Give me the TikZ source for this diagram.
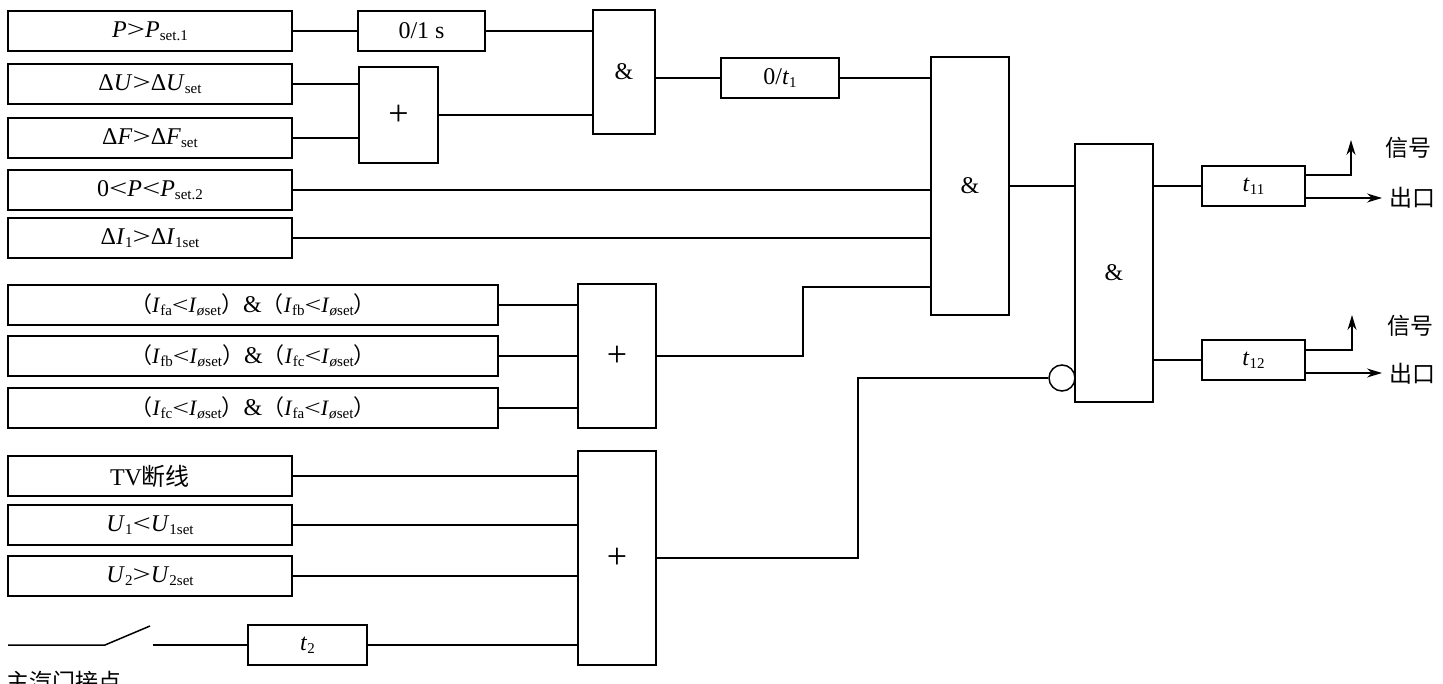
\documentclass[tikz,border=0pt]{standalone}
\usepackage{fontspec}
\setmainfont{Liberation Serif}
\newfontfamily\cjk{Noto Sans CJK SC}
\usetikzlibrary{arrows.meta}
\newcommand{\fs}{\fontsize{24}{28}\selectfont}
\newcommand{\fsm}{\fontsize{22}{26}\selectfont}
\newcommand{\lsub}[1]{\raisebox{-0.3ex}{\fontsize{15}{15}\selectfont #1}}
\newcommand{\lp}{{\cjk （}}
\newcommand{\rp}{{\cjk ）}}
\newcommand{\gt}{\scalebox{1.35}[1]{>}}
\newcommand{\lt}{\scalebox{1.35}[1]{<}}
\newcommand{\orsym}{{\fontsize{36}{36}\selectfont +}}
\begin{document}
\begin{tikzpicture}[x=1pt,y=-1pt, line width=1.5pt,
  box/.style={draw, line width=1.5pt, inner sep=0pt, font=\fs},
  inbox/.style={box, minimum width=284pt, minimum height=40pt},
  wbox/.style={box, minimum width=490pt, minimum height=40pt, font=\fsm},
  arr/.style={-{Stealth[length=15pt,width=9pt]}},
  lbl/.style={font=\cjk\fontsize{23}{26}\selectfont, inner sep=0pt}]
\useasboundingbox (0,0) rectangle (1443,684);
% inputs
\node[inbox] (in1) at (150,31) {\textit{P}\gt\textit{P}\lsub{set.1}};
\node[inbox] (in2) at (150,84) {Δ\textit{U}\gt Δ\textit{U}\lsub{set}};
\node[inbox] (in3) at (150,138) {Δ\textit{F}\gt Δ\textit{F}\lsub{set}};
\node[inbox] (in4) at (150,190) {0\lt\textit{P}\lt\textit{P}\lsub{set.2}};
\node[inbox] (in5) at (150,238) {Δ\textit{I}\lsub{1}\gt Δ\textit{I}\lsub{1set}};
\node[wbox] (in6) at (253,305) {\lp\textit{I}\lsub{fa}\lt\textit{I}\lsub{\textit{ø}set}\rp{\fs\&}\lp\textit{I}\lsub{fb}\lt\textit{I}\lsub{\textit{ø}set}\rp};
\node[wbox] (in7) at (253,356) {\lp\textit{I}\lsub{fb}\lt\textit{I}\lsub{\textit{ø}set}\rp{\fs\&}\lp\textit{I}\lsub{fc}\lt\textit{I}\lsub{\textit{ø}set}\rp};
\node[wbox] (in8) at (253,408) {\lp\textit{I}\lsub{fc}\lt\textit{I}\lsub{\textit{ø}set}\rp{\fs\&}\lp\textit{I}\lsub{fa}\lt\textit{I}\lsub{\textit{ø}set}\rp};
\node[inbox] (in9) at (150,476) {TV{\cjk 断线}};
\node[inbox] (in10) at (150,525) {\textit{U}\lsub{1}\lt\textit{U}\lsub{1set}};
\node[inbox] (in11) at (150,576) {\textit{U}\lsub{2}\gt\textit{U}\lsub{2set}};
% timers and gates
\node[box, minimum width=127pt, minimum height=40pt] (d01) at (421.5,31) {0/1 s};
\node[box, minimum width=79pt, minimum height=96pt] (or1) at (398.5,115) {\orsym};
\node[box, minimum width=62pt, minimum height=124pt] (and1) at (624,72) {\&};
\node[box, minimum width=118pt, minimum height=40pt] (dt1) at (780,78) {0/\textit{t}\lsub{1}};
\node[box, minimum width=78pt, minimum height=258pt] (and2) at (970,186) {\&};
\node[box, minimum width=78pt, minimum height=258pt] (and3) at (1114,273) {\&};
\node[box, minimum width=103pt, minimum height=40pt] (t11) at (1253.5,186) {\textit{t}\lsub{11}};
\node[box, minimum width=103pt, minimum height=40pt] (t12) at (1253.5,360) {\textit{t}\lsub{12}};
\node[box, minimum width=78pt, minimum height=144pt] (or2) at (617,356) {\orsym};
\node[box, minimum width=78pt, minimum height=214pt] (or3) at (617,558) {\orsym};
\node[box, minimum width=119pt, minimum height=40pt] (t2) at (307.5,645) {\textit{t}\lsub{2}};
\node[draw, circle, line width=1.5pt, minimum size=26pt, inner sep=0pt] (inv) at (1062,378) {};
% labels
\node[lbl] (s1) at (1408,148) {信号};
\node[lbl] (o1) at (1412,198) {出口};
\node[lbl] (s2) at (1410,326) {信号};
\node[lbl] (o2) at (1412,374) {出口};
\node[lbl, anchor=west] (zq) at (6,682) {主汽门接点};
% switch
\coordinate (sw0) at (8,645);
\coordinate (sw1) at (105,645);
\coordinate (sw2) at (150,626);
\coordinate (sw3) at (153,645);
\draw (sw0) -- (sw1) -- (sw2);
\draw (sw3) -- (t2.west);
\draw (t2.east) -- (t2.east -| or3.west);
% connections top
\draw (in1.east) -- (d01.west);
\draw (d01.east) -- (d01.east -| and1.west);
\draw (in2.east) -- (in2.east -| or1.west);
\draw (in3.east) -- (in3.east -| or1.west);
\draw (or1.east) -- (or1.east -| and1.west);
\draw (dt1.west -| and1.east) -- (dt1.west);
\draw (dt1.east) -- (dt1.east -| and2.west);
\draw (in4.east) -- (in4.east -| and2.west);
\draw (in5.east) -- (in5.east -| and2.west);
\coordinate (k1) at (803,356);
\coordinate (k2) at (803,287);
\draw (or2.east) -- (k1) -- (k2) -- (k2 -| and2.west);
\draw (in6.east) -- (in6.east -| or2.west);
\draw (in7.east) -- (in7.east -| or2.west);
\draw (in8.east) -- (in8.east -| or2.west);
\draw (in9.east) -- (in9.east -| or3.west);
\draw (in10.east) -- (in10.east -| or3.west);
\draw (in11.east) -- (in11.east -| or3.west);
\coordinate (k3) at (858,558);
\coordinate (k4) at (858,378);
\draw (or3.east) -- (k3) -- (k4) -- (inv.west);
\draw (and2.east) -- (and2.east -| and3.west);
\draw (t11.west -| and3.east) -- (t11.west);
\draw (t12.west -| and3.east) -- (t12.west);
% outputs
\coordinate (a1) at (1351,175);
\coordinate (a2) at (1351,140);
\coordinate (a3) at (1382,198);
\draw[arr] (t11.east |- a1) -- (a1) -- (a2);
\draw[arr] (t11.east |- a3) -- (a3);
\coordinate (b1) at (1352,350);
\coordinate (b2) at (1352,315);
\coordinate (b3) at (1382,373);
\draw[arr] (t12.east |- b1) -- (b1) -- (b2);
\draw[arr] (t12.east |- b3) -- (b3);
\end{tikzpicture}
\end{document}
